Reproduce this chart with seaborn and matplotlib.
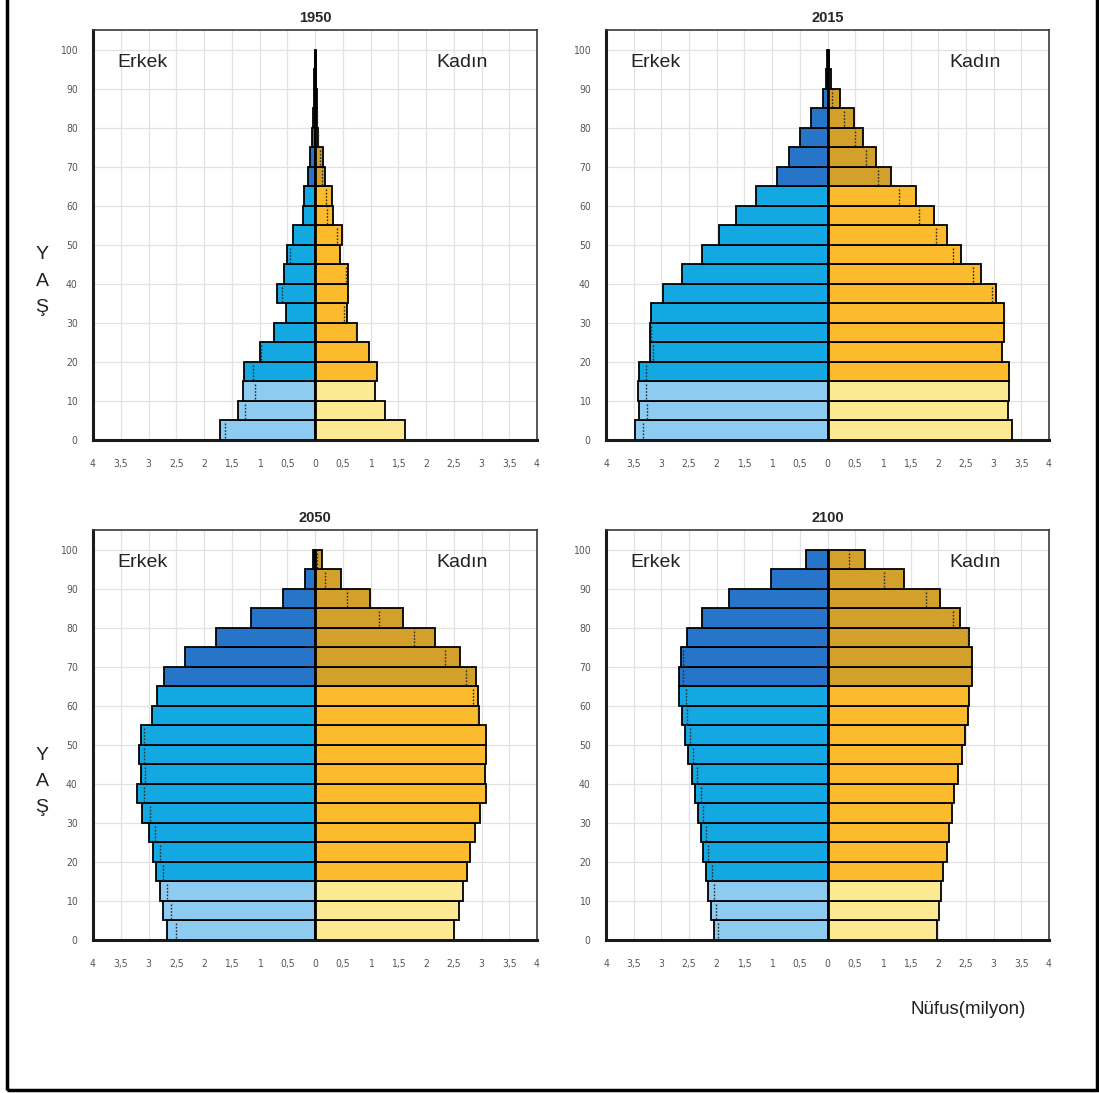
import matplotlib
matplotlib.use("Agg")
import matplotlib.pyplot as plt
import seaborn as sns
import pandas as pd
from matplotlib.patches import Rectangle

# Five-year age groups (lower bound of each group)
age_start = [0, 5, 10, 15, 20, 25, 30, 35, 40, 45, 50, 55, 60, 65, 70, 75, 80, 85, 90, 95]

years = ["1950", "2015", "2050", "2100"]

# Population by age group, millions
male_1950 = [1.71, 1.39, 1.29, 1.28, 0.99, 0.73, 0.52, 0.69, 0.56, 0.50,
             0.39, 0.22, 0.20, 0.12, 0.09, 0.05, 0.035, 0.02, 0.01, 0.005]
female_1950 = [1.62, 1.27, 1.09, 1.11, 0.98, 0.75, 0.58, 0.59, 0.59, 0.45,
               0.48, 0.33, 0.30, 0.18, 0.15, 0.06, 0.04, 0.03, 0.02, 0.01]

male_2015 = [3.48, 3.40, 3.42, 3.40, 3.21, 3.21, 3.18, 2.97, 2.62, 2.26,
             1.96, 1.65, 1.29, 0.91, 0.70, 0.50, 0.29, 0.08, 0.02, 0.005]
female_2015 = [3.34, 3.26, 3.28, 3.28, 3.15, 3.18, 3.19, 3.05, 2.77, 2.41,
               2.16, 1.93, 1.60, 1.15, 0.88, 0.65, 0.47, 0.22, 0.07, 0.02]

male_2050 = [2.66, 2.73, 2.80, 2.86, 2.92, 3.00, 3.11, 3.20, 3.14, 3.17,
             3.14, 2.94, 2.85, 2.72, 2.34, 1.78, 1.15, 0.57, 0.18, 0.04]
female_2050 = [2.51, 2.59, 2.66, 2.73, 2.79, 2.88, 2.98, 3.09, 3.07, 3.08,
               3.09, 2.95, 2.94, 2.90, 2.62, 2.17, 1.58, 0.99, 0.46, 0.12]

male_2100 = [2.05, 2.10, 2.15, 2.19, 2.25, 2.29, 2.34, 2.39, 2.44, 2.52,
             2.58, 2.63, 2.68, 2.68, 2.65, 2.53, 2.26, 1.77, 1.02, 0.38]
female_2100 = [1.98, 2.02, 2.05, 2.09, 2.15, 2.20, 2.25, 2.29, 2.35, 2.42,
               2.48, 2.53, 2.56, 2.61, 2.61, 2.56, 2.39, 2.04, 1.39, 0.68]

male_values = [male_1950, male_2015, male_2050, male_2100]
female_values = [female_1950, female_2015, female_2050, female_2100]

x_ticks = [-4, -3.5, -3, -2.5, -2, -1.5, -1, -0.5, 0, 0.5, 1, 1.5, 2, 2.5, 3, 3.5, 4]
x_tick_labels = ["4", "3,5", "3", "2,5", "2", "1,5", "1", "0,5", "0",
                 "0,5", "1", "1,5", "2", "2,5", "3", "3,5", "4"]
y_ticks = [0, 10, 20, 30, 40, 50, 60, 70, 80, 90, 100]

palette = {
    "E_young": "#8ecbf1", "E_work": "#14a8e3", "E_old": "#2675c8",
    "K_young": "#fde991", "K_work": "#fbbb2c", "K_old": "#d4a02c",
}


def band(age):
    if age < 15:
        return "young"
    if age < 65:
        return "work"
    return "old"


rows = []
for yr, mv, fv in zip(years, male_values, female_values):
    for a, m, f in zip(age_start, mv, fv):
        rows.append({"year": yr, "age": a + 2.5, "value": -m, "key": "E_" + band(a)})
        rows.append({"year": yr, "age": a + 2.5, "value": f, "key": "K_" + band(a)})
df = pd.DataFrame(rows)

sns.set_style("white")
plt.rcParams["font.family"] = ["Liberation Sans", "DejaVu Sans"]

W, H = 1099, 1093
fig = plt.figure(figsize=(W / 100, H / 100), dpi=100)

# axes boxes in pixels: (left, top, right, bottom)
boxes = [(93, 30, 537, 440), (606, 30, 1049, 440),
         (93, 530, 537, 940), (606, 530, 1049, 940)]

for i, (yr, box) in enumerate(zip(years, boxes)):
    l, t, r, b = box
    ax = fig.add_axes([l / W, 1 - b / H, (r - l) / W, (b - t) / H])
    sub = df[df["year"] == yr]
    sns.barplot(data=sub, x="value", y="age", hue="key", palette=palette,
                orient="y", native_scale=True, dodge=False, width=1.0,
                saturation=1, edgecolor="black", linewidth=1.3, errorbar=None,
                legend=False, ax=ax, zorder=3)

    # dotted marks showing the smaller sex's count inside the larger bar
    mv, fv = male_values[i], female_values[i]
    for a, m, f in zip(age_start, mv, fv):
        lo = min(m, f)
        if lo < 0.03:
            continue
        xpos = -lo if m > f else lo
        ax.vlines(xpos, a + 0.4, a + 4.6, colors="#2a2a2a", linewidth=1.0,
                  linestyles=(0, (1.2, 1.2)), zorder=4)

    # centre line at zero
    ax.vlines(0, 0, 100, colors="black", linewidth=2.0, zorder=5)

    ax.set_xlim(-4, 4)
    ax.set_ylim(0, 105.1)
    ax.set_xticks(x_ticks)
    ax.set_xticklabels(x_tick_labels)
    ax.set_yticks(y_ticks)
    ax.set_yticklabels([str(v) for v in y_ticks])
    ax.tick_params(axis="x", direction="out", length=4, width=1, colors="#333333",
                   labelsize=7.5, labelcolor="#555555", pad=10)
    ax.tick_params(axis="y", direction="in", length=3, width=1, colors="#333333",
                   labelsize=7.5, labelcolor="#555555", pad=11)
    for lab in ax.get_xticklabels() + ax.get_yticklabels():
        lab.set_fontfamily(["DejaVu Sans"])
        lab.set_fontstretch("condensed")
    ax.grid(True, color="#e2e2e2", linewidth=0.9, zorder=0)
    ax.set_axisbelow(True)
    ax.set_xlabel("")
    ax.set_ylabel("")
    for sp in ax.spines.values():
        sp.set_visible(True)
        sp.set_color("#3a3a3a")
        sp.set_linewidth(1.2)
    ax.spines["left"].set_linewidth(2.2)
    ax.spines["left"].set_color("#1a1a1a")
    ax.spines["bottom"].set_linewidth(2.2)
    ax.spines["bottom"].set_color("#1a1a1a")

    ax.set_title(yr, fontsize=10.5, fontweight="bold", pad=6)
    ax.text(0.054, 0.92, "Erkek", transform=ax.transAxes, fontsize=14,
            color="#222222", ha="left", va="center")
    ax.text(0.89, 0.92, "Kadın", transform=ax.transAxes, fontsize=14,
            color="#222222", ha="right", va="center")

# vertical "YAŞ" labels, one letter per line
for y0 in (255, 755):
    for k, ch in enumerate("YAŞ"):
        fig.text(42 / W, 1 - (y0 + 26 * k) / H, ch, fontsize=14,
                 color="#222222", ha="center", va="center")

fig.text(968 / W, 1 - 1010 / H, "Nüfus(milyon)", fontsize=13.5,
         color="#222222", ha="center", va="center")

# outer frame (left, right and bottom edges)
fig.patches.append(Rectangle((7 / W, 3 / H), (1097 - 7) / W, 1.2, fill=False,
                             edgecolor="black", linewidth=2.5,
                             transform=fig.transFigure, figure=fig))

fig.savefig("out.png", dpi=100)
